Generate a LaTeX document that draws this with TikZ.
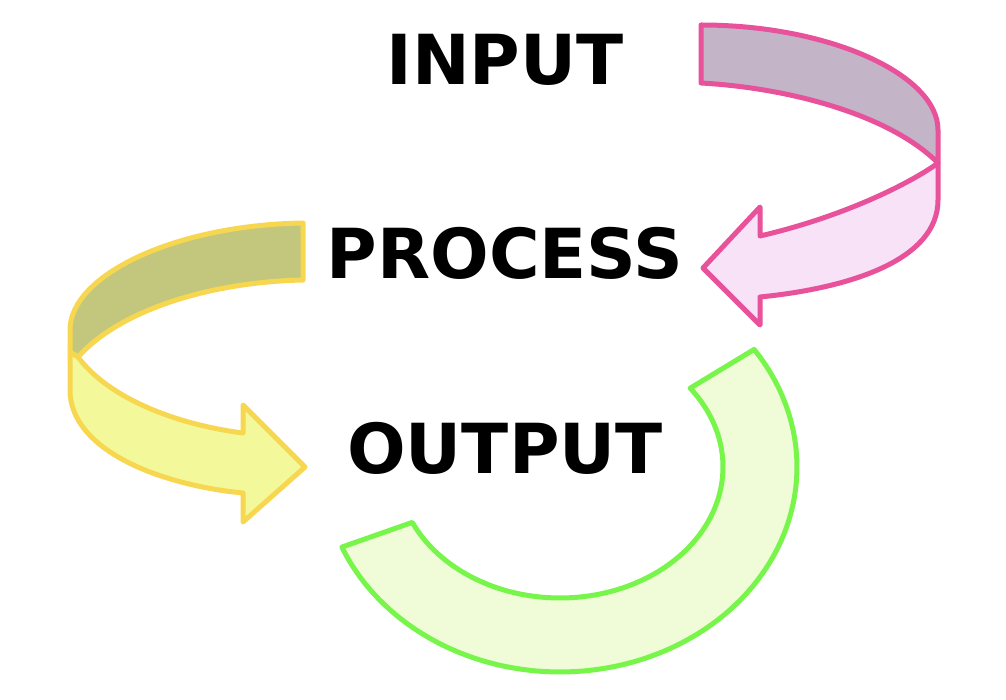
\documentclass[tikz,border=0pt]{standalone}
\usepackage{fontspec}
\setmainfont{DejaVu Sans}
\usepackage{xcolor}
\usetikzlibrary{arrows.meta,shapes,calc}

\definecolor{pinkline}{RGB}{232,82,155}
\definecolor{pinkdark}{RGB}{196,180,200}
\definecolor{pinklight}{RGB}{247,226,247}
\definecolor{yellowline}{RGB}{247,215,80}
\definecolor{yellowdark}{RGB}{195,199,125}
\definecolor{yellowlight}{RGB}{243,249,155}
\definecolor{greenline}{RGB}{120,245,75}
\definecolor{greenlight}{RGB}{240,252,215}

\begin{document}
\begin{tikzpicture}[x=1pt,y=-1pt]
            \tikzset{word/.style = {font=\fontsize{69}{72}\selectfont\bfseries, anchor=base, inner sep=0pt}}
            \tikzset{band/.style = {line width=5pt, line join=round}}
            \useasboundingbox (0,0) rectangle (1006,700);

            % pink arrow
            \draw[band, draw=pinkline, fill=pinkdark] (701,25) .. controls (830,25) and (938,75) .. (938,130) -- (938,163) .. controls (890,115) and (790,88) .. (701,83) -- cycle;
            \draw[band, draw=pinkline, fill=pinklight] (938,163) -- (938,200) .. controls (938,260) and (850,288) .. (760,297) -- (760,325) -- (703,268) -- (760,207) -- (760,236) .. controls (850,215) and (915,180) .. (938,163) -- cycle;

            % yellow arrow
            \draw[band, draw=yellowline, fill=yellowdark] (303,223) .. controls (175,225) and (70,275) .. (70,330) -- (70,352) -- (78,357) .. controls (120,310) and (210,282) .. (303,280) -- cycle;
            \draw[band, draw=yellowline, fill=yellowlight] (70,352) -- (70,390) .. controls (70,450) and (160,485) .. (243,493) -- (243,522) -- (305,467) -- (243,405) -- (243,433) .. controls (180,425) and (110,400) .. (78,357) -- cycle;

            % green arc
            \draw[band, draw=greenline, fill=greenlight] plot[domain=-35:157, samples=80] ({560+237*cos(\x)},{467+205*sin(\x)}) -- plot[domain=155:-37, samples=80] ({560+163*cos(\x)},{467+131*sin(\x)}) -- cycle;

            % words
            \foreach \name/\text/\y in {input/INPUT/85, process/PROCESS/279, output/OUTPUT/473}
            {
              \node[word] (\name) at (505,\y) {\text};
            }

\end{tikzpicture}
\end{document}
